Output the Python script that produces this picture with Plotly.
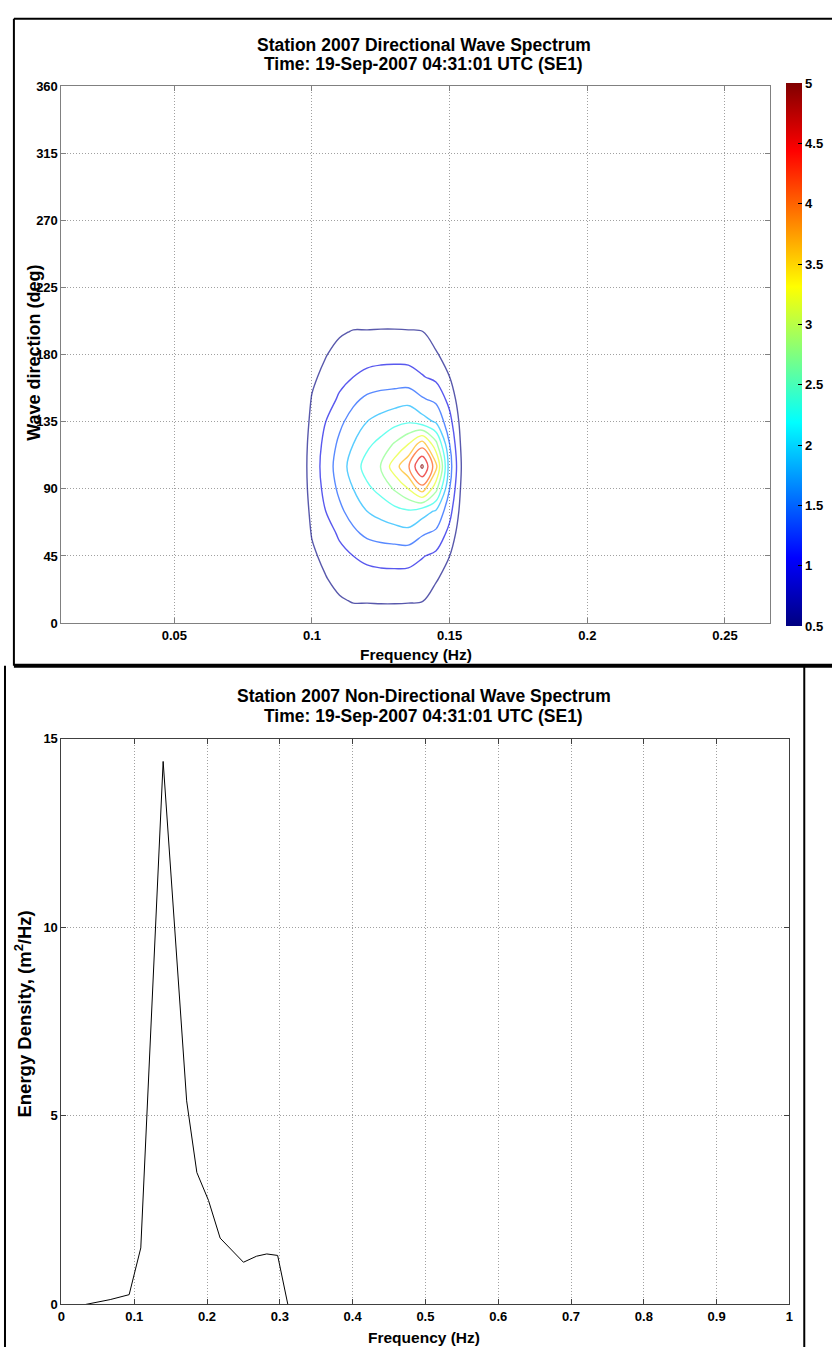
import plotly.graph_objects as go

W, H = 836, 1355

# ---------------- data: directional spectrum ----------------
dir_freq = [0.090, 0.095, 0.100, 0.105, 0.110, 0.115, 0.120, 0.125, 0.130,
            0.135, 0.140, 0.145, 0.150, 0.155, 0.160]
dir_deg = [0, 15, 30, 45, 60, 75, 90, 105, 120, 135, 150, 165, 180, 195, 210]
dir_energy = [
    [0, 0, 0, 0.10, 0.15, 0.25, 0.25, 0.25, 0.25, 0.25, 0.22, 0.10, 0, 0, 0],
    [0, 0, 0.10, 0.30, 0.45, 0.53, 0.53, 0.54, 0.54, 0.53, 0.52, 0.30, 0.15, 0, 0],
    [0, 0, 0.25, 0.48, 0.65, 0.75, 0.80, 0.82, 0.82, 0.80, 0.72, 0.55, 0.30, 0, 0],
    [0, 0.05, 0.42, 0.62, 0.85, 0.95, 1.05, 1.10, 1.12, 1.12, 0.98, 0.85, 0.50, 0, 0],
    [0, 0.10, 0.53, 0.80, 1.00, 1.30, 1.50, 1.60, 1.65, 1.70, 1.45, 1.30, 0.80, 0.10, 0],
    [0, 0.15, 0.60, 0.95, 1.30, 1.60, 1.85, 2.00, 2.15, 2.25, 2.05, 1.80, 1.10, 0.20, 0],
    [0, 0.18, 0.66, 1.08, 1.50, 1.85, 2.20, 2.45, 2.80, 3.20, 3.90, 2.90, 1.40, 0.25, 0],
    [0, 0.20, 0.68, 1.15, 1.62, 2.05, 2.50, 2.78, 3.45, 4.05, 5.10, 3.80, 1.60, 0.30, 0],
    [0, 0.18, 0.66, 1.08, 1.50, 1.85, 2.20, 2.45, 2.80, 3.20, 3.90, 2.90, 1.40, 0.25, 0],
    [0, 0.15, 0.60, 0.95, 1.30, 1.60, 1.85, 2.00, 2.15, 2.25, 2.05, 1.80, 1.10, 0.20, 0],
    [0, 0.10, 0.53, 0.80, 1.00, 1.30, 1.50, 1.60, 1.65, 1.70, 1.45, 1.30, 0.80, 0.10, 0],
    [0, 0.05, 0.42, 0.62, 0.85, 0.95, 1.05, 1.10, 1.12, 1.12, 0.98, 0.85, 0.50, 0, 0],
    [0, 0, 0.25, 0.48, 0.65, 0.75, 0.80, 0.82, 0.82, 0.80, 0.72, 0.55, 0.30, 0, 0],
    [0, 0, 0.10, 0.30, 0.45, 0.53, 0.53, 0.54, 0.54, 0.53, 0.52, 0.30, 0.15, 0, 0],
    [0, 0, 0, 0.10, 0.15, 0.25, 0.25, 0.25, 0.25, 0.25, 0.22, 0.10, 0, 0, 0],
]
contour_start, contour_end, contour_step = 0.5, 5.0, 0.45
cbar_vals = [0.5, 1, 1.5, 2, 2.5, 3, 3.5, 4, 4.5, 5]
cbar_text = ["0.5", "1", "1.5", "2", "2.5", "3", "3.5", "4", "4.5", "5"]

top_xrange = [0.009, 0.2662]
top_xticks = [0.05, 0.1, 0.15, 0.2, 0.25]
top_xtext = ["0.05", "0.1", "0.15", "0.2", "0.25"]
top_yticks = [0, 45, 90, 135, 180, 225, 270, 315, 360]

# ---------------- data: non-directional spectrum ----------------
spec_freq = [0.033, 0.067, 0.093, 0.109, 0.1397, 0.150, 0.172, 0.186, 0.202,
             0.218, 0.250, 0.268, 0.282, 0.297, 0.311]
spec_energy = [0.0, 0.13, 0.26, 1.5, 14.4, 11.6, 5.4, 3.5, 2.76,
               1.76, 1.12, 1.28, 1.34, 1.30, 0.0]
bot_xticks = [0, 0.1, 0.2, 0.3, 0.4, 0.5, 0.6, 0.7, 0.8, 0.9, 1]
bot_xtext = ["0", "0.1", "0.2", "0.3", "0.4", "0.5", "0.6", "0.7", "0.8", "0.9", "1"]
bot_yticks = [0, 5, 10, 15]

jet = [[0.0, "rgb(0,0,128)"], [0.125, "rgb(0,0,255)"], [0.375, "rgb(0,255,255)"],
       [0.625, "rgb(255,255,0)"], [0.875, "rgb(255,0,0)"], [1.0, "rgb(128,0,0)"]]

FONT = "Liberation Sans, Arial, sans-serif"


def px(x):
    return x / W


def py(y):
    return 1 - y / H


fig = go.Figure()

fig.add_trace(go.Contour(
    x=dir_freq, y=dir_deg, z=dir_energy,
    contours=dict(start=contour_start, end=contour_end, size=contour_step,
                  coloring="lines"),
    colorscale=jet, zmin=0.5, zmax=5, zauto=False,
    line=dict(width=1.4), opacity=0.65, showscale=False,
    xaxis="x", yaxis="y", hoverinfo="skip"))

fig.add_trace(go.Scatter(
    x=[None], y=[None], mode="markers", xaxis="x", yaxis="y",
    marker=dict(color=[0.5], cmin=0.5, cmax=5, colorscale=jet, showscale=True,
                colorbar=dict(x=px(790), xanchor="left", xpad=0, ypad=0,
                              y=py(351.5), yanchor="middle",
                              thickness=16, thicknessmode="pixels",
                              len=543, lenmode="pixels",
                              tickvals=cbar_vals, ticktext=cbar_text,
                              ticks="inside", ticklen=4, tickcolor="black",
                              outlinewidth=0,
                              tickfont=dict(family=FONT, size=13, color="black",
                                            weight="bold"))),
    showlegend=False, hoverinfo="skip"))

fig.add_trace(go.Scatter(
    x=spec_freq, y=spec_energy, mode="lines",
    line=dict(color="black", width=1), xaxis="x2", yaxis="y2",
    showlegend=False))

tickfont = dict(family=FONT, size=13, color="black", weight="bold")
axis_common = dict(showgrid=True, gridcolor="#a0a0a0", griddash="1px,2px", gridwidth=1,
                   showline=True, mirror="ticks", ticks="inside", ticklen=5,
                   zeroline=False, tickfont=tickfont)

fig.update_layout(
    width=W, height=H, margin=dict(l=0, r=0, t=0, b=0),
    paper_bgcolor="white", plot_bgcolor="white", showlegend=False,
    xaxis=dict(domain=[px(58), px(773)], range=top_xrange, anchor="y",
               tickvals=top_xticks, ticktext=top_xtext,
               linecolor="#808080", tickcolor="#808080", **axis_common),
    yaxis=dict(domain=[py(623), py(80)], range=[0, 360], anchor="x",
               tickvals=top_yticks,
               linecolor="#808080", tickcolor="#808080", **axis_common),
    xaxis2=dict(domain=[px(58), px(793)], range=[0, 1], anchor="y2",
                tickvals=bot_xticks, ticktext=bot_xtext,
                linecolor="#404040", tickcolor="#404040", **axis_common),
    yaxis2=dict(domain=[py(1312), py(740)], range=[0, 15], anchor="x2",
                tickvals=bot_yticks,
                linecolor="#404040", tickcolor="#404040", **axis_common),
)

titlefont = dict(family=FONT, size=17.5, color="black", weight="bold")
labfont = dict(family=FONT, size=15.5, color="black", weight="bold")
vlabfont = dict(family=FONT, size=18, color="black", weight="bold")
blabfont = dict(family=FONT, size=18.5, color="black", weight="bold")
annots = [
    dict(x=px(424), y=py(38), text="Station 2007 Directional Wave Spectrum", font=titlefont),
    dict(x=px(424), y=py(58), text="Time: 19-Sep-2007 04:31:01 UTC (SE1)", font=titlefont),
    dict(x=px(416), y=py(655), text="Frequency (Hz)", font=labfont),
    dict(x=px(30), y=py(350), text="Wave direction (deg)", font=vlabfont, textangle=-90),
    dict(x=px(424), y=py(697), text="Station 2007 Non-Directional Wave Spectrum", font=titlefont),
    dict(x=px(424), y=py(717), text="Time: 19-Sep-2007 04:31:01 UTC (SE1)", font=titlefont),
    dict(x=px(424), y=py(1345), text="Frequency (Hz)", font=labfont),
    dict(x=px(19), y=py(1018), text="Energy Density, (m<sup>2</sup>/Hz)", font=blabfont, textangle=-90),
]
for a in annots:
    a.update(xref="paper", yref="paper", showarrow=False, xanchor="center", yanchor="middle")
fig.update_layout(annotations=annots)

shapes = [
    dict(type="line", x0=px(10), x1=px(10), y0=py(12), y1=py(666), line=dict(color="black", width=2)),
    dict(type="line", x0=px(10), x1=px(836), y0=py(12), y1=py(12), line=dict(color="black", width=2)),
    dict(type="line", x0=px(10), x1=px(836), y0=py(666), y1=py(666), line=dict(color="black", width=4)),
    dict(type="line", x0=px(1), x1=px(1), y0=py(666), y1=py(1355), line=dict(color="black", width=2)),
    dict(type="line", x0=px(808), x1=px(808), y0=py(666), y1=py(1355), line=dict(color="black", width=2)),
]
for s in shapes:
    s.update(xref="paper", yref="paper", layer="above")
fig.update_layout(shapes=shapes)

fig.write_html("out.html", config={"displayModeBar": False},
               post_script="document.body.style.margin='0';document.body.style.padding='0';"
                           "document.body.style.overflow='hidden';")
